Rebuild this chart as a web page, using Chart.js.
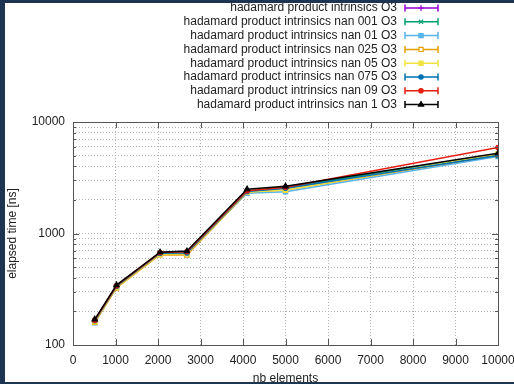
<!DOCTYPE html>
<html>
<head>
<meta charset="utf-8">
<script src="https://cdn.jsdelivr.net/npm/chart.js@4"></script>
<style>
  html, body { margin: 0; padding: 0; background: #1d3550; overflow: hidden; width: 514px; height: 384px; }
  #wrap { position: absolute; left: 5px; top: 3px; width: 529px; height: 379px; background: #fff; }
</style>
</head>
<body>
<div id="wrap"><canvas id="myChart" width="529" height="379"></canvas></div>
<script>
// nb elements
let nbElements = [512, 1024, 2048, 2680, 4096, 5000, 10000];

let seriesNames = [
    "hadamard product intrinsics O3",
    "hadamard product intrinsics nan 001 O3",
    "hadamard product intrinsics nan 01 O3",
    "hadamard product intrinsics nan 025 O3",
    "hadamard product intrinsics nan 05 O3",
    "hadamard product intrinsics nan 075 O3",
    "hadamard product intrinsics nan 09 O3",
    "hadamard product intrinsics nan 1 O3"
];

// elapsed time [ns]
let timeO3     = [165, 340, 670, 680, 2400, 2550, 5000];
let timeNan001 = [163, 338, 665, 675, 2380, 2600, 5100];
let timeNan01  = [158, 330, 660, 670, 2300, 2370, 4900];
let timeNan025 = [160, 325, 645, 640, 2350, 2450, 5050];
let timeNan05  = [162, 330, 655, 660, 2350, 2450, 5200];
let timeNan075 = [165, 335, 665, 670, 2380, 2550, 5000];
let timeNan09  = [167, 340, 675, 685, 2420, 2600, 5900];
let timeNan1   = [170, 345, 680, 695, 2500, 2650, 5250];

let yTickLabels = [100, 1000, 10000];

let allTimes = [timeO3, timeNan001, timeNan01, timeNan025, timeNan05, timeNan075, timeNan09, timeNan1];
let colors = ['#9400d3', '#009e73', '#56b4e9', '#e69f00', '#f0e442', '#0072b2', '#e51e10', '#000000'];
let styles = ['cross', 'crossRot', 'rect', 'rect', 'rect', 'circle', 'circle', 'triangle'];
let font = { family: '"Liberation Sans", Arial, sans-serif', size: 12 };

let datasets = allTimes.map(function (vals, i) {
    return {
        label: seriesNames[i],
        data: vals.map(function (v, j) { return { x: nbElements[j], y: v }; }),
        borderColor: colors[i],
        backgroundColor: i === 3 ? '#ffffff' : colors[i],
        pointBorderColor: colors[i],
        pointStyle: styles[i],
        pointRadius: styles[i] === 'circle' ? 2.2 : 3,
        pointBorderWidth: 1.2,
        borderWidth: 1.5,
        order: allTimes.length - i
    };
});

// legend on the right, one line per series, plus the box around the plot
let gnuplotLook = {
    id: 'gnuplotLook',
    afterDraw: function (chart) {
        let ctx = chart.ctx;
        let area = chart.chartArea;
        let xs = chart.scales.x, ys = chart.scales.y;
        ctx.save();
        // border ticks
        ctx.strokeStyle = '#555';
        ctx.lineWidth = 1;
        ctx.beginPath();
        xs.ticks.forEach(function (t) {
            let px = Math.round(xs.getPixelForValue(t.value)) + 0.5;
            ctx.moveTo(px, area.bottom); ctx.lineTo(px, area.bottom - 6);
            ctx.moveTo(px, area.top); ctx.lineTo(px, area.top + 6);
        });
        ys.ticks.forEach(function (t) {
            let py = Math.round(ys.getPixelForValue(t.value)) + 0.5;
            let len = yTickLabels.indexOf(t.value) >= 0 ? 6 : 3;
            ctx.moveTo(area.left, py); ctx.lineTo(area.left + len, py);
            ctx.moveTo(area.right, py); ctx.lineTo(area.right - len, py);
        });
        ctx.stroke();
        ctx.strokeRect(Math.round(area.left) + 0.5, Math.round(area.top) + 0.5,
            Math.round(area.right - area.left), Math.round(area.bottom - area.top));

        // legend
        ctx.font = '12px "Liberation Sans", Arial, sans-serif';
        ctx.textAlign = 'right';
        ctx.textBaseline = 'middle';
        chart.data.datasets.forEach(function (ds, i) {
            let y = 5 + i * 13.8;
            ctx.fillStyle = '#222';
            ctx.fillText(ds.label, 392, y);
            ctx.strokeStyle = ds.borderColor;
            ctx.lineWidth = 1.5;
            ctx.beginPath();
            ctx.moveTo(400, y); ctx.lineTo(433, y);
            ctx.moveTo(400, y - 3.5); ctx.lineTo(400, y + 3.5);
            ctx.moveTo(433, y - 3.5); ctx.lineTo(433, y + 3.5);
            ctx.stroke();
            ctx.fillStyle = ds.backgroundColor;
            ctx.lineWidth = ds.pointBorderWidth;
            Chart.helpers.drawPoint(ctx, {
                pointStyle: ds.pointStyle,
                radius: ds.pointRadius,
                borderWidth: ds.pointBorderWidth,
                rotation: 0
            }, 416, y);
        });
        ctx.restore();
    }
};

let myChart = document.getElementById("myChart").getContext("2d");
let perfChart = new Chart(myChart, {
    type: 'line',
    data: { datasets: datasets },
    options: {
        responsive: false,
        animation: false,
        layout: { padding: { top: 119, right: 36, left: 0, bottom: 0 } },
        plugins: {
            legend: { display: false },
            tooltip: { enabled: false }
        },
        scales: {
            x: {
                type: 'linear',
                min: 0,
                max: 10000,
                afterFit: function (scale) { scale.height = 37; },
                ticks: {
                    stepSize: 1000,
                    padding: 8,
                    color: '#222',
                    maxRotation: 0,
                    autoSkip: false,
                    font: font,
                    callback: function (value) { return String(value); }
                },
                grid: { color: '#b4b4b4', drawTicks: false },
                border: { display: false, dash: [1, 2] },
                title: {
                    display: true,
                    text: 'nb elements',
                    color: '#222',
                    padding: { top: 4, bottom: -4 },
                    font: font
                }
            },
            y: {
                type: 'logarithmic',
                min: 100,
                max: 10000,
                afterFit: function (scale) { scale.width = 68; },
                afterBuildTicks: function (scale) {
                    let ticks = [];
                    for (let d = 100; d < 10000; d *= 10) {
                        for (let m = 1; m < 10; m++) ticks.push({ value: d * m });
                    }
                    ticks.push({ value: 10000 });
                    scale.ticks = ticks;
                },
                ticks: {
                    padding: 8,
                    color: '#222',
                    autoSkip: false,
                    font: font,
                    callback: function (value) {
                        return yTickLabels.indexOf(value) >= 0 ? String(value) : '';
                    }
                },
                grid: { color: '#b4b4b4', drawTicks: false },
                border: { display: false, dash: [1, 2] },
                title: {
                    display: true,
                    text: 'elapsed time [ns]',
                    color: '#222',
                    padding: { top: 0, bottom: 0 },
                    font: font
                }
            }
        }
    },
    plugins: [gnuplotLook]
});
</script>
</body>
</html>
